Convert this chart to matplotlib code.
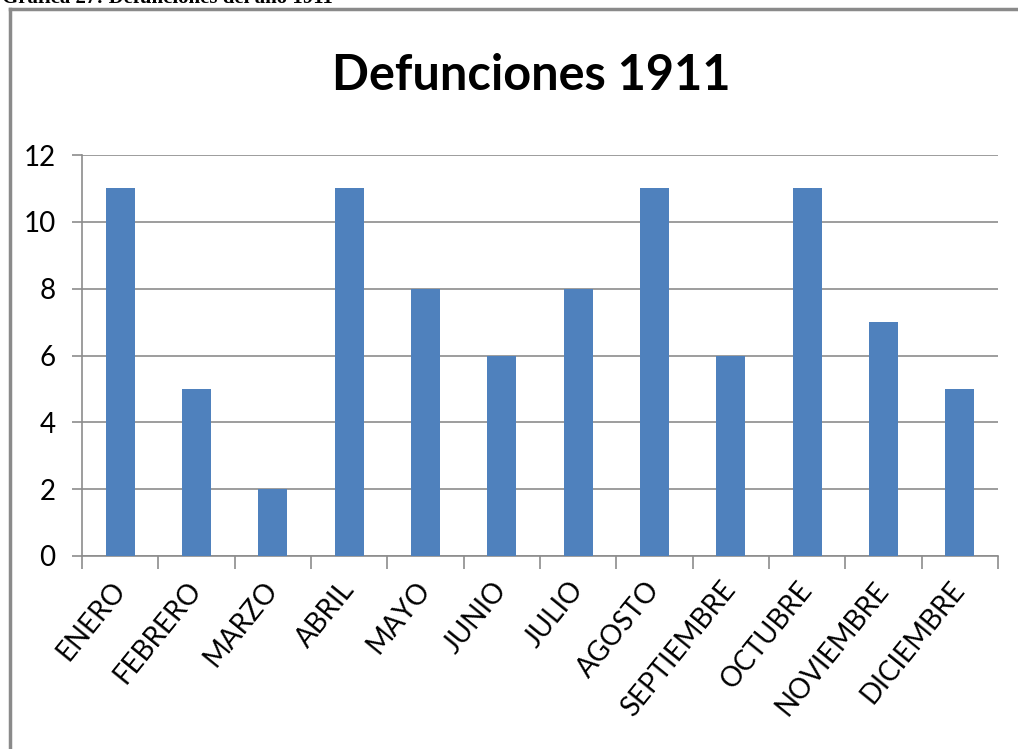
import matplotlib.pyplot as plt
import numpy as np
from matplotlib.lines import Line2D

meses = ['ENERO', 'FEBRERO', 'MARZO', 'ABRIL', 'MAYO', 'JUNIO', 'JULIO',
         'AGOSTO', 'SEPTIEMBRE', 'OCTUBRE', 'NOVIEMBRE', 'DICIEMBRE']
defunciones = [11, 5, 2, 11, 8, 6, 8, 11, 6, 11, 7, 5]
y_ticks = [0, 2, 4, 6, 8, 10, 12]

plt.rcParams['font.family'] = ['Lato', 'DejaVu Sans']

fig = plt.figure(figsize=(10.18, 7.49), dpi=100)
ax = fig.add_axes([82 / 1018, 1 - 556 / 749, (998 - 82) / 1018, (556 - 155) / 749])

x = np.arange(len(meses))
ax.bar(x, defunciones, width=0.38, color='#4F81BD', zorder=3)

ax.set_xlim(-0.5, len(meses) - 0.5)
ax.set_ylim(0, 12)
ax.set_yticks(y_ticks)
ax.set_yticklabels([str(v) for v in y_ticks], fontsize=20)
ax.yaxis.grid(True, color='#8C8C8C', linewidth=1.2, zorder=0)
ax.tick_params(axis='y', length=7, width=1.2, color='#8C8C8C', pad=12)

# category boundary ticks below the axis
ax.set_xticks(np.arange(-0.5, len(meses), 1.0), minor=True)
ax.tick_params(axis='x', which='minor', length=9, width=1.2, color='#8C8C8C')
ax.set_xticks(x)
ax.set_xticklabels(meses, rotation=51, ha='right', va='center',
                   rotation_mode='anchor', fontsize=20)
ax.tick_params(axis='x', which='major', length=0, pad=21)

for s in ['top', 'right']:
    ax.spines[s].set_visible(False)
ax.spines['left'].set_color('#8C8C8C')
ax.spines['left'].set_linewidth(1.2)
ax.spines['bottom'].set_color('#8C8C8C')
ax.spines['bottom'].set_linewidth(1.2)

fig.text(531 / 1018, 1 - 76 / 749, 'Defunciones 1911', ha='center', va='center',
         fontsize=35, fontweight='bold')

# outer frame of the pasted chart (left and top edges visible)
fig.add_artist(Line2D([10 / 1018, 10 / 1018], [0, 1 - 9 / 749],
                      transform=fig.transFigure, color='#8A8A8A', linewidth=2.5))
fig.add_artist(Line2D([10 / 1018, 1], [1 - 9 / 749, 1 - 9 / 749],
                      transform=fig.transFigure, color='#8A8A8A', linewidth=2.5))

# caption cut off at the top of the page, as in the source scan
fig.text(2 / 1018, 1 + 2 / 749, 'Gráfica 27: Defunciones del año 1911', ha='left',
         va='center', fontsize=15, fontweight='bold', family='Liberation Serif')

fig.savefig('out.png', dpi=100)
